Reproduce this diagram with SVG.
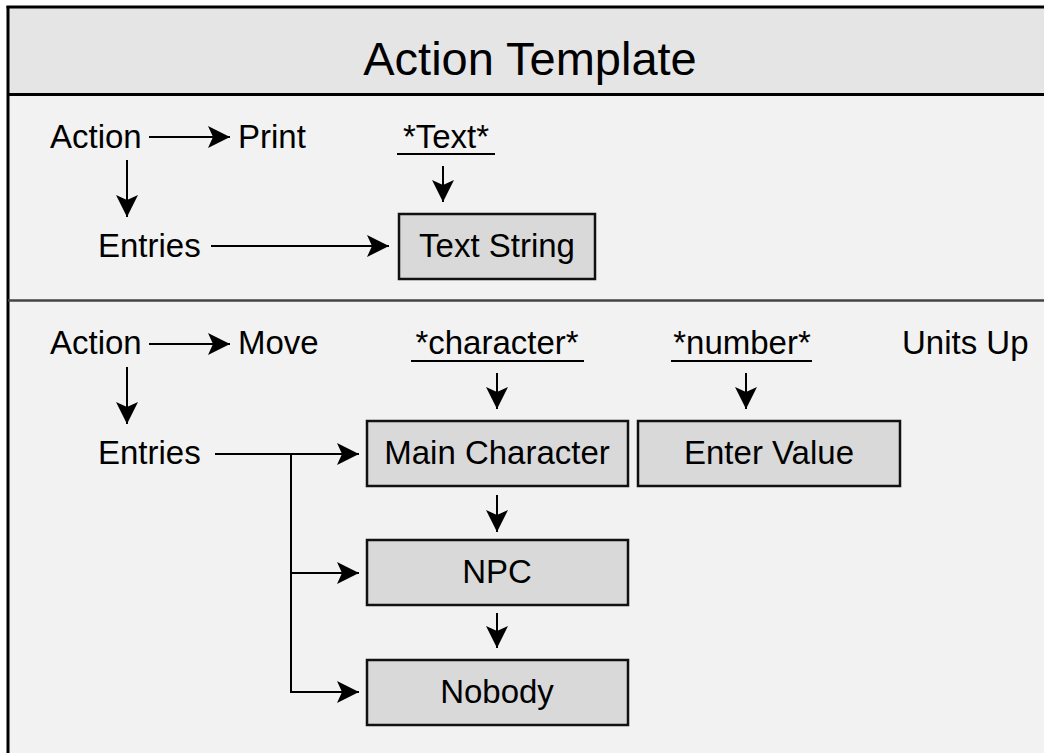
<svg xmlns="http://www.w3.org/2000/svg" width="1044" height="753" viewBox="0 0 1044 753">
<style>
  text { font-family: "Liberation Sans", Arial, sans-serif; fill: #000; }
  .lbl { font-size: 33px; }
  .mid { text-anchor: middle; }
  .box { fill: #d9d9d9; stroke: #111; stroke-width: 2.5; }
  .conn { fill: none; stroke: #000; stroke-width: 2; }
  .ul { stroke: #000; stroke-width: 2; }
</style>
<defs>
  <marker id="ah" markerUnits="userSpaceOnUse" markerWidth="24" markerHeight="24" refX="22" refY="11" orient="auto">
    <path d="M0,0 L22,11 L0,22 L5,11 Z" fill="#000"/>
  </marker>
</defs>
<rect x="0" y="0" width="1044" height="753" fill="#ffffff"/>
<g id="frame">
  <rect x="8" y="7" width="1036" height="88" fill="#e5e5e5"/>
  <rect x="8" y="95" width="1036" height="658" fill="#f2f2f2"/>
  <line x1="6.5" y1="7" x2="1044" y2="7" stroke="#000" stroke-width="3"/>
  <line x1="8" y1="6" x2="8" y2="753" stroke="#000" stroke-width="3"/>
  <line x1="8" y1="94.5" x2="1044" y2="94.5" stroke="#000" stroke-width="3"/>
  <line x1="8" y1="300.5" x2="1044" y2="300.5" stroke="#444" stroke-width="2.5"/>
  <text x="530" y="75" font-size="47" class="mid">Action Template</text>
</g>
<g id="s1-action"><text class="lbl" x="50" y="148">Action</text></g>
<g id="s1-print"><text class="lbl" x="238" y="148">Print</text></g>
<g id="s1-entries"><text class="lbl" x="98" y="257">Entries</text></g>
<g id="s1-text"><text class="lbl mid" x="446" y="148">*Text*</text><line class="ul" x1="397" y1="154" x2="495" y2="154"/></g>
<g id="s1-textstring"><rect class="box" x="399" y="214" width="196" height="65"/><text class="lbl mid" x="497" y="257">Text String</text></g>

<g id="s2-action"><text class="lbl" x="50" y="354">Action</text></g>
<g id="s2-move"><text class="lbl" x="238" y="354">Move</text></g>
<g id="s2-entries"><text class="lbl" x="98" y="464">Entries</text></g>
<g id="s2-character"><text class="lbl mid" x="497" y="354">*character*</text><line class="ul" x1="411" y1="361" x2="584" y2="361"/></g>
<g id="s2-number"><text class="lbl mid" x="742" y="354">*number*</text><line class="ul" x1="671" y1="361" x2="812" y2="361"/></g>
<g id="s2-units"><text class="lbl" x="902" y="354">Units Up</text></g>
<g id="s2-main"><rect class="box" x="367" y="421" width="261" height="65"/><text class="lbl mid" x="497" y="464">Main Character</text></g>
<g id="s2-enter"><rect class="box" x="638" y="421" width="262" height="65"/><text class="lbl mid" x="769" y="464">Enter Value</text></g>
<g id="s2-npc"><rect class="box" x="367" y="540" width="261" height="65"/><text class="lbl mid" x="497" y="583">NPC</text></g>
<g id="s2-nobody"><rect class="box" x="367" y="660" width="261" height="65"/><text class="lbl mid" x="497" y="703">Nobody</text></g>

<g id="connectors">
  <line class="conn" x1="149" y1="137" x2="230" y2="137" marker-end="url(#ah)"/>
  <line class="conn" x1="127" y1="160" x2="127" y2="217" marker-end="url(#ah)"/>
  <line class="conn" x1="443" y1="166" x2="443" y2="202" marker-end="url(#ah)"/>
  <line class="conn" x1="211" y1="246" x2="389" y2="246" marker-end="url(#ah)"/>

  <line class="conn" x1="149" y1="344" x2="230" y2="344" marker-end="url(#ah)"/>
  <line class="conn" x1="127" y1="367" x2="127" y2="424" marker-end="url(#ah)"/>
  <line class="conn" x1="497" y1="373" x2="497" y2="409" marker-end="url(#ah)"/>
  <line class="conn" x1="746" y1="373" x2="746" y2="409" marker-end="url(#ah)"/>
  <line class="conn" x1="215" y1="454" x2="359" y2="454" marker-end="url(#ah)"/>
  <path class="conn" d="M291,454 V692 H359" marker-end="url(#ah)"/>
  <line class="conn" x1="291" y1="573" x2="359" y2="573" marker-end="url(#ah)"/>
  <line class="conn" x1="497" y1="495" x2="497" y2="532" marker-end="url(#ah)"/>
  <line class="conn" x1="497" y1="613" x2="497" y2="648" marker-end="url(#ah)"/>
</g>
</svg>
